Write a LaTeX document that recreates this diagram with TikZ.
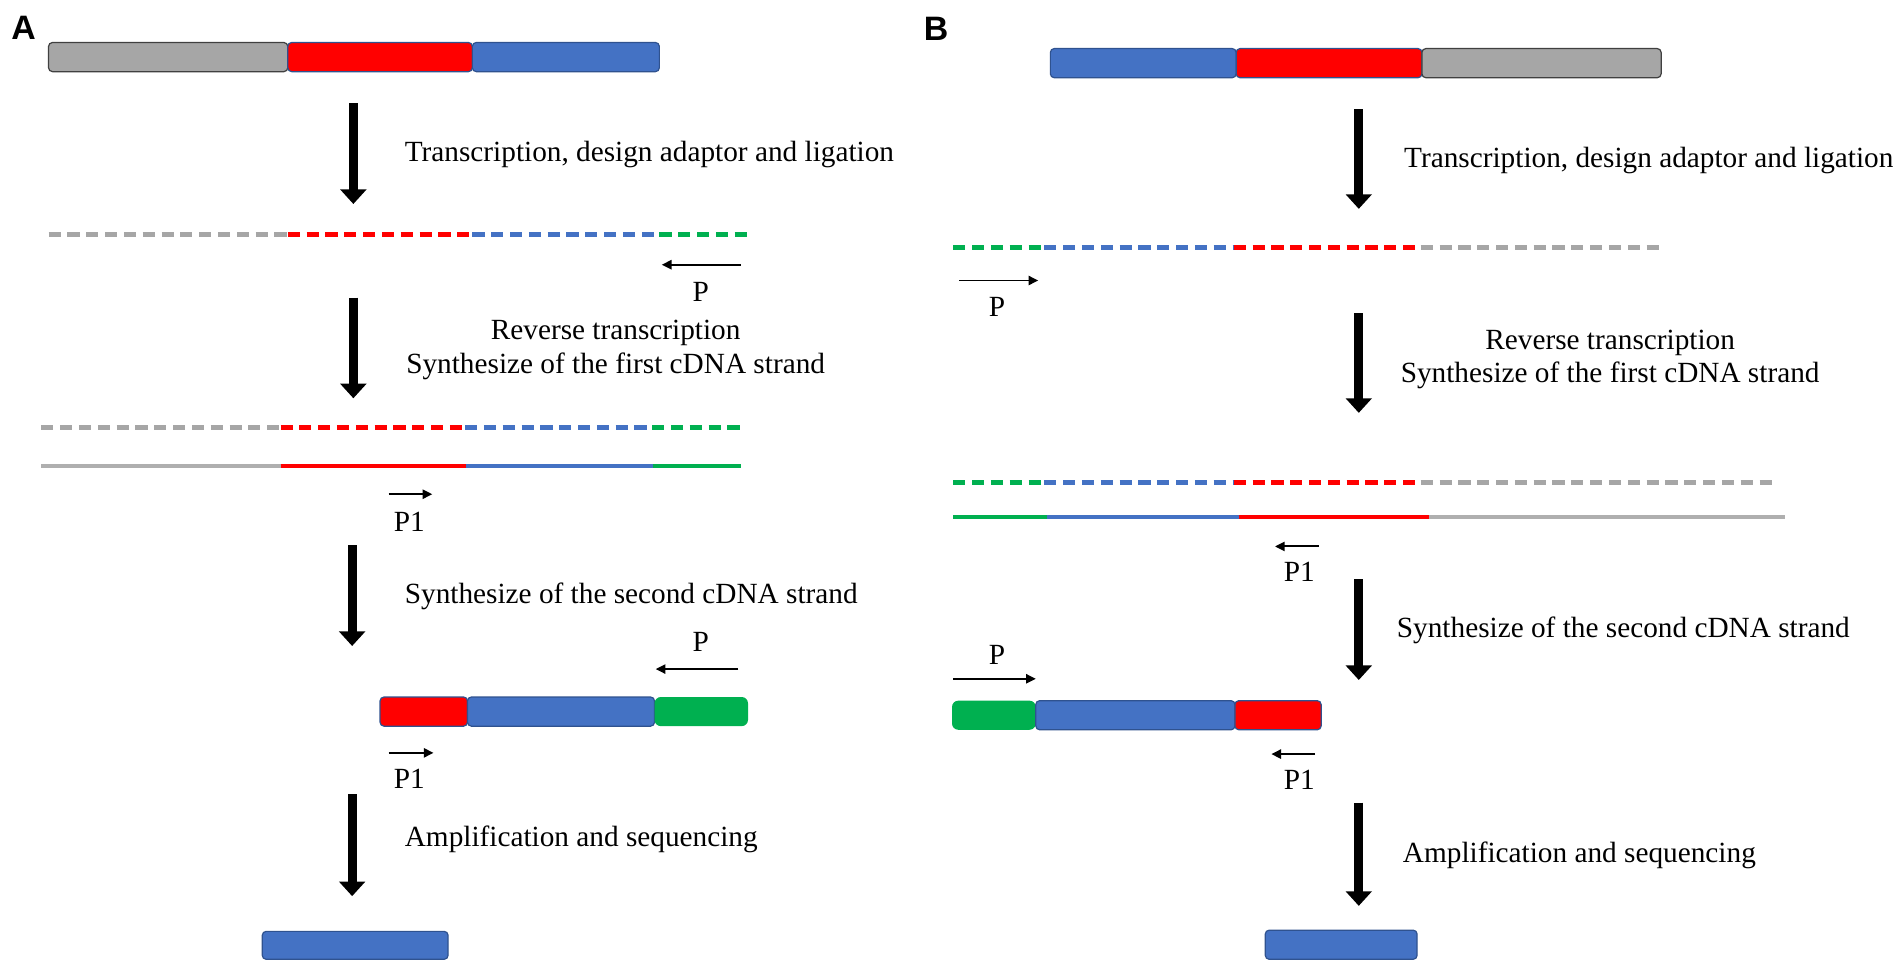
\documentclass[tikz,border=0pt]{standalone}
\usepackage{fontspec}
\setmainfont{Liberation Serif}
\newfontfamily\labfont{Liberation Sans}
\usetikzlibrary{arrows.meta,fit}
\definecolor{cgray}{HTML}{A6A6A6}
\definecolor{lgray}{HTML}{AFAFAF}
\definecolor{cred}{HTML}{FF0000}
\definecolor{cblue}{HTML}{4472C4}
\definecolor{cgreen}{HTML}{00B050}
\definecolor{oblue}{HTML}{2F528F}
\begin{document}
\begin{tikzpicture}[x=0.5bp,y=-0.5bp,
  seg/.style={rounded corners=1.6bp, inner sep=0pt, line width=0.5bp, draw=oblue},
  grayseg/.style={seg, fill=cgray, draw=black!75},
  redseg/.style={seg, fill=cred},
  blueseg/.style={seg, fill=cblue},
  greenseg/.style={seg, fill=cgreen, draw=none, rounded corners=2.6bp},
  bigarrow/.style={line width=3.6bp, -{Triangle[width=10.5bp,length=6bp]}},
  primer/.style={line width=0.8bp, -{Triangle[width=3.8bp,length=4bp]}},
  dseg/.style={line width=2bp, dash pattern=on 5bp off 2.75bp},
  sseg/.style={line width=1.7bp},
  txt/.style={inner sep=0pt, font=\fontsize{12.1}{14}\selectfont},
  plab/.style={inner sep=0pt, font=\fontsize{12.1}{14}\selectfont},
  panel/.style={inner sep=0pt, font=\labfont\bfseries\fontsize{14}{16}\selectfont}]
\useasboundingbox (0,0) rectangle (1568,796.4);

% ================= Panel A =================
\node[panel] (labA) at (19.5,23) {A};
% top bar
\node[grayseg, fit={(40,35) (237,59)}] (a1g) {};
\node[redseg,  fit={(237,35) (389,59)}] (a1r) {};
\node[blueseg, fit={(389,35) (543,59)}] (a1b) {};
% arrow 1
\coordinate (aA1s) at (291,85); \coordinate (aA1e) at (291,168);
\draw[bigarrow] (aA1s) -- (aA1e);
\node[txt, anchor=west] (tA1) at (333,127) {Transcription, design adaptor and ligation};
% dashed RNA
\draw[dseg, cgray]  (40,193) -- (237,193);
\draw[dseg, cred]   (237,193) -- (389,193);
\draw[dseg, cblue]  (389,193) -- (543,193);
\draw[dseg, cgreen] (543,193) -- (618,193);
\coordinate (pA1s) at (610,218); \coordinate (pA1e) at (545,218);
\draw[primer] (pA1s) -- (pA1e);
\node[plab] (lA1) at (577,240) {P};
% arrow 2
\coordinate (aA2s) at (291,245); \coordinate (aA2e) at (291,328);
\draw[bigarrow] (aA2s) -- (aA2e);
\node[txt, align=center] (tA2) at (507,288) {Reverse transcription\\Synthesize of the first cDNA strand};
% hybrid
\draw[dseg, cgray]  (34,352) -- (231,352);
\draw[dseg, cred]   (231,352) -- (383,352);
\draw[dseg, cblue]  (383,352) -- (537,352);
\draw[dseg, cgreen] (537,352) -- (610,352);
\draw[sseg, lgray]  (34,384) -- (231,384);
\draw[sseg, cred]   (231,384) -- (384,384);
\draw[sseg, cblue]  (384,384) -- (538,384);
\draw[sseg, cgreen] (538,384) -- (610,384);
\coordinate (pA2s) at (320,407); \coordinate (pA2e) at (356,407);
\draw[primer] (pA2s) -- (pA2e);
\node[plab] (lA2) at (337,430) {P1};
% arrow 3
\coordinate (aA3s) at (290,449); \coordinate (aA3e) at (290,532);
\draw[bigarrow] (aA3s) -- (aA3e);
\node[txt, anchor=west] (tA3) at (333,491) {Synthesize of the second cDNA strand};
\node[plab] (lA3) at (577,529) {P};
\coordinate (pA3s) at (608,551); \coordinate (pA3e) at (540,551);
\draw[primer] (pA3s) -- (pA3e);
\node[redseg,  fit={(313,574) (385,598)}] (a4r) {};
\node[blueseg, fit={(385,574) (539,598)}] (a4b) {};
\node[greenseg, fit={(539,574) (616,598)}] (a4g) {};
\coordinate (pA4s) at (320,620); \coordinate (pA4e) at (357,620);
\draw[primer] (pA4s) -- (pA4e);
\node[plab] (lA4) at (337,641) {P1};
% arrow 4
\coordinate (aA4s) at (290,654); \coordinate (aA4e) at (290,738);
\draw[bigarrow] (aA4s) -- (aA4e);
\node[txt, anchor=west] (tA4) at (333,691) {Amplification and sequencing};
\node[blueseg, fit={(216,767) (369,790)}] (a5b) {};

% ================= Panel B =================
\node[panel] (labB) at (771,24) {B};
\node[blueseg, fit={(865,40) (1018,64)}] (b1b) {};
\node[redseg,  fit={(1018,40) (1171,64)}] (b1r) {};
\node[grayseg, fit={(1171,40) (1368,64)}] (b1g) {};
\coordinate (aB1s) at (1119,90); \coordinate (aB1e) at (1119,172);
\draw[bigarrow] (aB1s) -- (aB1e);
\node[txt, anchor=west] (tB1) at (1156,132) {Transcription, design adaptor and ligation};
\draw[dseg, cgreen] (785,204) -- (860,204);
\draw[dseg, cblue]  (860,204) -- (1016,204);
\draw[dseg, cred]   (1016,204) -- (1170,204);
\draw[dseg, cgray]  (1170,204) -- (1368,204);
\coordinate (pB1s) at (790,231); \coordinate (pB1e) at (855,231);
\draw[primer] (pB1s) -- (pB1e);
\node[plab] (lB1) at (821,253) {P};
\coordinate (aB2s) at (1119,258); \coordinate (aB2e) at (1119,340);
\draw[bigarrow] (aB2s) -- (aB2e);
\node[txt, align=center] (tB2) at (1326,296) {Reverse transcription\\Synthesize of the first cDNA strand};
\draw[dseg, cgreen] (785,397) -- (860,397);
\draw[dseg, cblue]  (860,397) -- (1016,397);
\draw[dseg, cred]   (1016,397) -- (1170,397);
\draw[dseg, cgray]  (1170,397) -- (1462,397);
\draw[sseg, cgreen] (785,426) -- (862,426);
\draw[sseg, cblue]  (862,426) -- (1020,426);
\draw[sseg, cred]   (1020,426) -- (1177,426);
\draw[sseg, lgray]  (1177,426) -- (1470,426);
\coordinate (pB2s) at (1086,450); \coordinate (pB2e) at (1050,450);
\draw[primer] (pB2s) -- (pB2e);
\node[plab] (lB2) at (1070,471) {P1};
\coordinate (aB3s) at (1119,477); \coordinate (aB3e) at (1119,560);
\draw[bigarrow] (aB3s) -- (aB3e);
\node[txt, anchor=west] (tB3) at (1150,519) {Synthesize of the second cDNA strand};
\node[plab] (lB3) at (821,539) {P};
\coordinate (pB3s) at (785,559); \coordinate (pB3e) at (853,559);
\draw[primer] (pB3s) -- (pB3e);
\node[greenseg, fit={(784,577) (853,601)}] (b4g) {};
\node[blueseg, fit={(853,577) (1017,601)}] (b4b) {};
\node[redseg,  fit={(1017,577) (1088,601)}] (b4r) {};
\coordinate (pB4s) at (1083,621); \coordinate (pB4e) at (1047,621);
\draw[primer] (pB4s) -- (pB4e);
\node[plab] (lB4) at (1070,642) {P1};
\coordinate (aB4s) at (1119,661); \coordinate (aB4e) at (1119,746);
\draw[bigarrow] (aB4s) -- (aB4e);
\node[txt, anchor=west] (tB4) at (1155,704) {Amplification and sequencing};
\node[blueseg, fit={(1042,766) (1167,790)}] (b5b) {};
\end{tikzpicture}
\end{document}
